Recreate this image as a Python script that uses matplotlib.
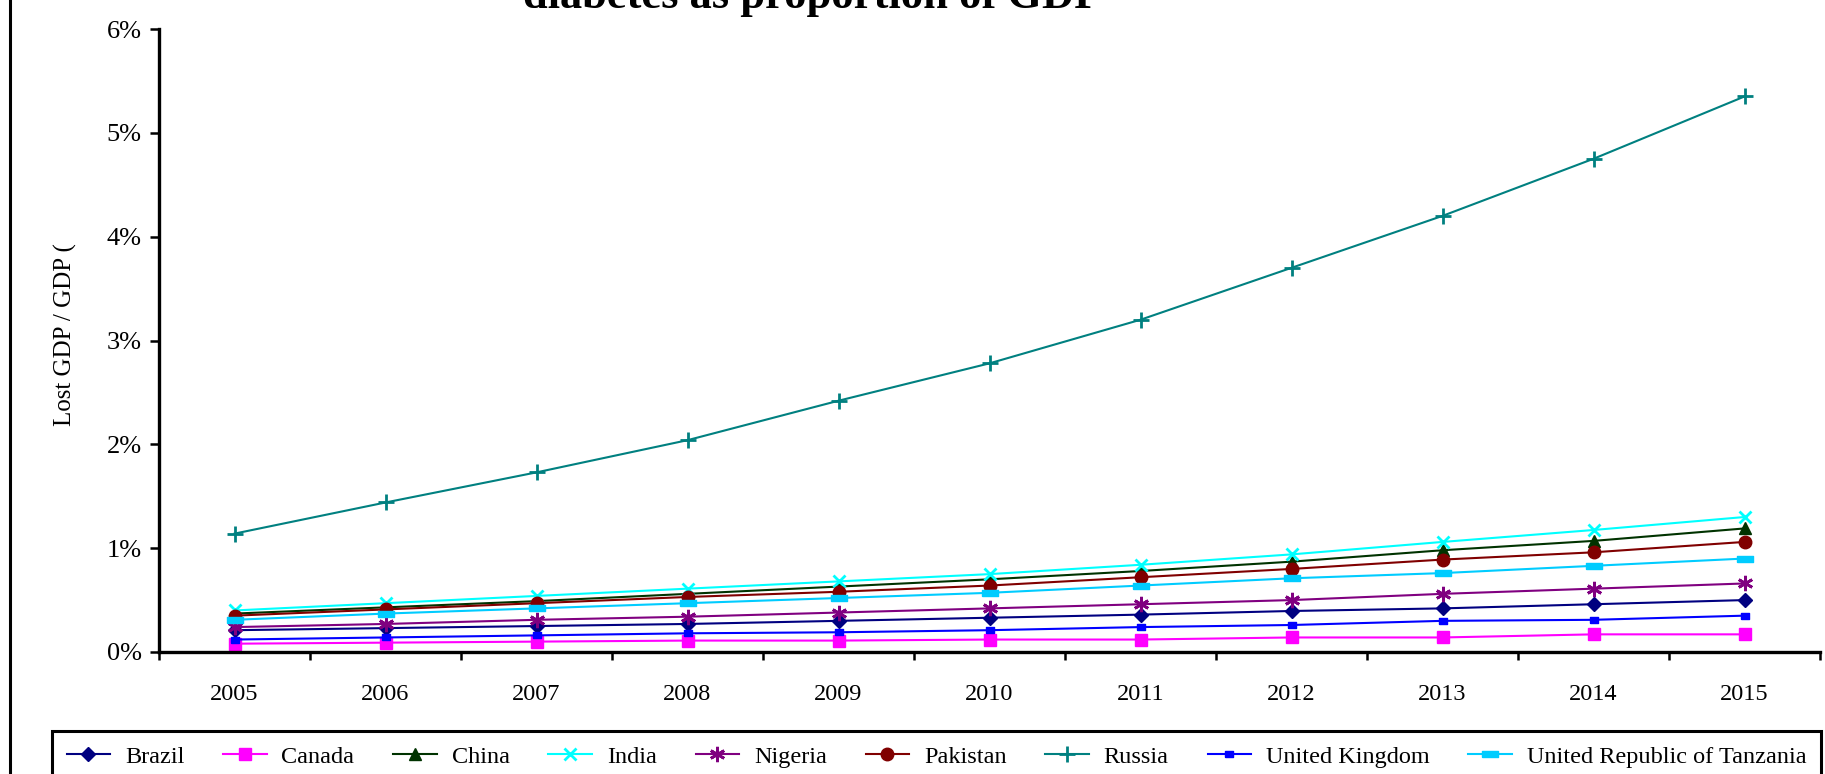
import matplotlib.pyplot as plt
from matplotlib.lines import Line2D
import numpy as np

plt.rcParams['font.family'] = ['Liberation Serif', 'DejaVu Serif']

years = ['2005', '2006', '2007', '2008', '2009', '2010', '2011', '2012', '2013', '2014', '2015']
ytick_labels = ['0%', '1%', '2%', '3%', '4%', '5%', '6%']

# values, in % of GDP
brazil   = [0.21, 0.23, 0.25, 0.27, 0.30, 0.33, 0.36, 0.395, 0.42, 0.46, 0.50]
canada   = [0.08, 0.09, 0.10, 0.11, 0.11, 0.12, 0.12, 0.14, 0.14, 0.17, 0.17]
china    = [0.37, 0.43, 0.49, 0.56, 0.63, 0.70, 0.78, 0.87, 0.98, 1.07, 1.19]
india    = [0.40, 0.47, 0.54, 0.61, 0.68, 0.75, 0.84, 0.94, 1.06, 1.175, 1.30]
nigeria  = [0.24, 0.27, 0.31, 0.34, 0.38, 0.42, 0.46, 0.50, 0.56, 0.61, 0.66]
pakistan = [0.35, 0.41, 0.47, 0.53, 0.58, 0.64, 0.72, 0.80, 0.89, 0.96, 1.06]
russia   = [1.14, 1.44, 1.73, 2.04, 2.42, 2.78, 3.20, 3.70, 4.20, 4.75, 5.35]
uk       = [0.12, 0.14, 0.16, 0.18, 0.19, 0.21, 0.24, 0.26, 0.30, 0.31, 0.35]
tanzania = [0.31, 0.37, 0.42, 0.47, 0.52, 0.57, 0.64, 0.71, 0.76, 0.83, 0.90]

names = ['Brazil', 'Canada', 'China', 'India', 'Nigeria', 'Pakistan', 'Russia',
         'United Kingdom', 'United Republic of Tanzania']
series = [brazil, canada, china, india, nigeria, pakistan, russia, uk, tanzania]

# excel style "dash" markers
uk_bar = [(-1, -0.7), (1, -0.7), (1, 0.7), (-1, 0.7), (-1, -0.7)]
tz_bar = [(-1, -0.38), (1, -0.38), (1, 0.38), (-1, 0.38), (-1, -0.38)]

styles = [
    dict(color='#000080', marker='D', ms=7),
    dict(color='#FF00FF', marker='s', ms=9),
    dict(color='#003300', marker='^', ms=9),
    dict(color='#00FFFF', marker='x', ms=9, mew=2),
    dict(color='#800080', marker=(6, 2, 0), ms=11, mew=2),
    dict(color='#800000', marker='o', ms=9),
    dict(color='#008080', marker='+', ms=12, mew=2),
    dict(color='#0000FF', marker=uk_bar, ms=6),
    dict(color='#00CCFF', marker=tz_bar, ms=12),
]

fig = plt.figure(figsize=(18.25, 7.74), dpi=100)
ax = fig.add_axes([159/1825, 1 - 652/774, (1820 - 159)/1825, (652 - 29)/774])

x = np.arange(len(years))
for name, vals, st in zip(names, series, styles):
    ax.plot(x, vals, label=name, lw=1.5, **st)

ax.set_xlim(-0.5, len(years) - 0.5)
ax.set_ylim(0, 6)
ax.set_yticks(range(len(ytick_labels)))
ax.set_yticklabels(ytick_labels)
ax.set_xticks(x)
ax.set_xticklabels(years)
ax.set_xticks(np.arange(-0.5, len(years), 1), minor=True)

for s in ['top', 'right']:
    ax.spines[s].set_visible(False)
for s in ['left', 'bottom']:
    ax.spines[s].set_linewidth(2.4)

ax.tick_params(axis='y', direction='out', length=6.5, width=1.8, pad=6, labelsize=19)
ax.tick_params(axis='x', which='major', length=0, pad=23, labelsize=17.5)
ax.tick_params(axis='x', which='minor', direction='out', length=6, width=1.8)

fig.text(65/1825, 1 - 335/774, 'Lost GDP / GDP (', rotation=90, ha='center', va='center', fontsize=18)
# title sits partly above the picture, as in the original
fig.text(812/1825, 1 - 8/774, 'diabetes as proportion of GDP', ha='center', va='baseline',
         fontsize=32, fontweight='bold')

# outer chart frame (only the left side is inside the picture)
fig.add_artist(Line2D([10/1825, 10/1825], [0, 1], transform=fig.transFigure, color='black', lw=2.2))

leg = fig.legend(*ax.get_legend_handles_labels(), loc='upper left',
                 bbox_to_anchor=(52/1825, 1 - 731/774 - 0.05, (1821 - 52)/1825, 0.05),
                 mode='expand', ncol=9, fontsize=17.5, handlelength=1.8, handletextpad=0.6,
                 borderpad=0.6, borderaxespad=0, fancybox=False, frameon=True)
leg.get_frame().set_edgecolor('black')
leg.get_frame().set_linewidth(2.2)
leg.get_frame().set_alpha(1)

plt.savefig('out.png', dpi=100)
